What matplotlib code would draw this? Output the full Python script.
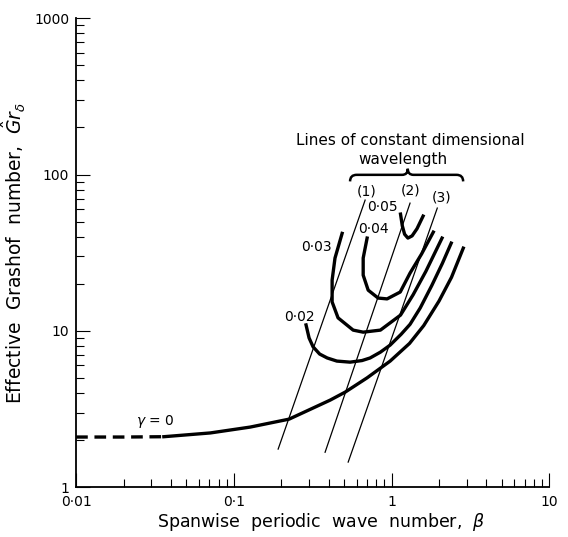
import numpy as np
import matplotlib
matplotlib.use("Agg")
import matplotlib.pyplot as plt
from matplotlib.path import Path
from matplotlib.patches import PathPatch
from matplotlib.ticker import NullFormatter

# gamma = 0 : dashed extrapolation then solid curve
beta_g0_dash = [0.01, 0.02, 0.036]
gr_g0_dash = [2.09, 2.09, 2.10]
beta_g0 = [0.036, 0.071, 0.127, 0.224, 0.408, 0.508, 0.70, 0.98, 1.3, 1.6, 2.0, 2.4, 2.85]
gr_g0 = [2.10, 2.22, 2.42, 2.72, 3.6, 4.05, 5.0, 6.4, 8.3, 10.8, 15.5, 22.0, 33.8]

# gamma = 0.02
beta_g02 = [0.287, 0.30, 0.318, 0.35, 0.391, 0.45, 0.546, 0.65, 0.731, 0.85, 0.98,
            1.15, 1.31, 1.52, 1.8, 2.1, 2.39]
gr_g02 = [10.9, 9.0, 7.9, 7.1, 6.7, 6.4, 6.3, 6.45, 6.7, 7.3, 8.1,
          9.5, 11.0, 14.0, 19.5, 27.0, 36.4]

# gamma = 0.03
beta_g03 = [0.486, 0.438, 0.42, 0.42, 0.458, 0.571, 0.661, 0.85, 1.14, 1.37, 1.65, 2.09]
gr_g03 = [42.0, 29.2, 21.1, 15.3, 12.1, 10.1, 9.8, 10.1, 12.6, 17.0, 24.0, 39.2]

# gamma = 0.04
beta_g04 = [0.70, 0.661, 0.661, 0.711, 0.822, 0.937, 1.135, 1.31, 1.55, 1.84]
gr_g04 = [39.2, 29.2, 22.7, 18.2, 16.2, 16.0, 17.7, 23.4, 31.0, 42.8]

# gamma = 0.05
beta_g05 = [1.14, 1.17, 1.21, 1.27, 1.35, 1.45, 1.585]
gr_g05 = [55.8, 47.0, 41.5, 39.2, 40.5, 45.0, 54.2]

# lines of constant dimensional wavelength (end points)
beta_l1 = [0.191, 0.68]
gr_l1 = [1.75, 68.6]
beta_l2 = [0.379, 1.31]
gr_l2 = [1.67, 65.6]
beta_l3 = [0.531, 1.95]
gr_l3 = [1.445, 61.0]

xticks = [0.01, 0.1, 1, 10]
xtick_labels = ["0·01", "0·1", "1", "10"]
yticks = [1, 10, 100, 1000]
ytick_labels = ["1", "10", "100", "1000"]

fig = plt.figure(figsize=(5.68, 5.37), dpi=100)
ax = fig.add_axes([0.134, 0.093, 0.833, 0.873])
ax.set_xscale("log")
ax.set_yscale("log")

thick = 2.4
ax.plot(beta_g0_dash, gr_g0_dash, color="black", lw=thick, ls=(0, (3.5, 2)),
        solid_capstyle="butt")
ax.plot(beta_g0, gr_g0, color="black", lw=thick)
ax.plot(beta_g02, gr_g02, color="black", lw=thick)
ax.plot(beta_g03, gr_g03, color="black", lw=thick)
ax.plot(beta_g04, gr_g04, color="black", lw=thick)
ax.plot(beta_g05, gr_g05, color="black", lw=thick)

for bx, gy in [(beta_l1, gr_l1), (beta_l2, gr_l2), (beta_l3, gr_l3)]:
    ax.plot(bx, gy, color="black", lw=0.9)

ax.set_xlim(0.01, 10)
ax.set_ylim(1, 1000)
ax.set_xticks(xticks, xtick_labels)
ax.set_yticks(yticks, ytick_labels)
ax.xaxis.set_minor_formatter(NullFormatter())
ax.yaxis.set_minor_formatter(NullFormatter())

ax.spines["top"].set_visible(False)
ax.spines["right"].set_visible(False)
ax.spines["left"].set_linewidth(1.3)
ax.spines["bottom"].set_linewidth(1.3)
ax.tick_params(which="both", direction="in", top=False, right=False, width=0.8)
ax.tick_params(which="major", length=10, labelsize=10, pad=5)
ax.tick_params(which="minor", length=5.5)
ax.tick_params(axis="x", which="major", pad=6)

ax.set_xlabel("Spanwise  periodic  wave  number,  $\\beta$", fontsize=12.5, labelpad=1)
ax.xaxis.label.set_x(0.517)
ax.set_ylabel("Effective  Grashof  number,  $\\hat{G}r_{\\delta}$", fontsize=13.5, labelpad=4)

# curve labels
tk = dict(transform=ax.transAxes, fontsize=10)
ax.text(0.167, 0.139, "$\\gamma$ = 0", ha="center", va="center", **tk)
ax.text(0.505, 0.362, "0·02", ha="right", va="center", **tk)
ax.text(0.541, 0.512, "0·03", ha="right", va="center", **tk)
ax.text(0.596, 0.550, "0·04", ha="left", va="center", **tk)
ax.text(0.615, 0.597, "0·05", ha="left", va="center", **tk)
ax.text(0.613, 0.631, "(1)", ha="center", va="center", **tk)
ax.text(0.706, 0.633, "(2)", ha="center", va="center", **tk)
ax.text(0.772, 0.618, "(3)", ha="center", va="center", **tk)

ax.text(0.706, 0.740, "Lines of constant dimensional", ha="center", va="center",
        transform=ax.transAxes, fontsize=11)
ax.text(0.690, 0.699, "wavelength", ha="center", va="center",
        transform=ax.transAxes, fontsize=11)

# curly brace over the three lines
x0, x1, xm = 0.579, 0.818, 0.701
yb, ym, yt = 0.652, 0.666, 0.679
verts = [(x0, yb), (x0, ym), (x0 + 0.014, ym),
         (xm - 0.012, ym), (xm, ym), (xm, yt),
         (xm, ym), (xm + 0.012, ym),
         (x1 - 0.014, ym), (x1, ym), (x1, yb)]
codes = [Path.MOVETO, Path.CURVE3, Path.CURVE3,
         Path.LINETO, Path.CURVE3, Path.CURVE3,
         Path.CURVE3, Path.CURVE3,
         Path.LINETO, Path.CURVE3, Path.CURVE3]
ax.add_patch(PathPatch(Path(verts, codes), fill=False, lw=1.8,
                       transform=ax.transAxes, clip_on=False))

fig.savefig("out.png", dpi=100)
